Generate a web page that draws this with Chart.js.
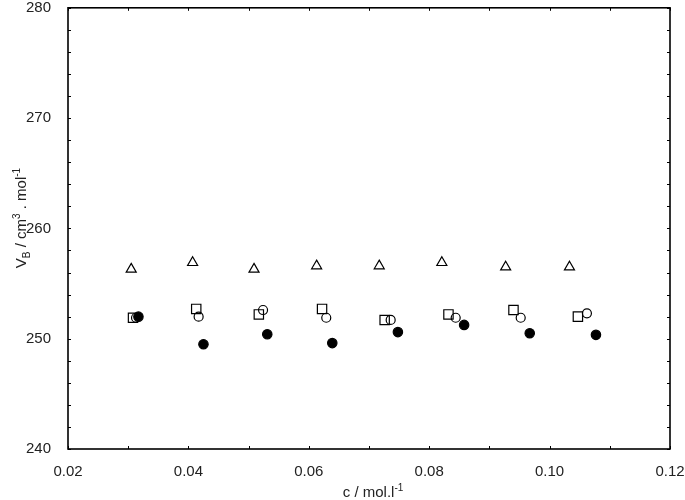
<!DOCTYPE html>
<html>
<head>
<meta charset="utf-8">
<script src="https://cdn.jsdelivr.net/npm/chart.js@4/dist/chart.umd.min.js"></script>
<style>
  html, body { margin: 0; padding: 0; background: #fff; }
  #wrap { width: 685px; height: 500px; }
</style>
</head>
<body>
<div id="wrap"><canvas id="chart" width="685" height="500"></canvas></div>
<script>
// concentrations (mol/l) and apparent molar volumes (cm3/mol)
const cTriangle = [0.0305, 0.0407, 0.0509, 0.0613, 0.0717, 0.0821, 0.0927, 0.1033];
const vTriangle = [256.3, 256.9, 256.3, 256.6, 256.6, 256.9, 256.5, 256.5];

const cSquare = [0.0308, 0.0413, 0.0517, 0.0622, 0.0726, 0.0832, 0.0940, 0.1047];
const vSquare = [251.9, 252.7, 252.2, 252.7, 251.7, 252.2, 252.6, 252.0];

const cOpen = [0.0313, 0.0417, 0.0524, 0.0629, 0.0736, 0.0844, 0.0952, 0.1062];
const vOpen = [251.9, 252.0, 252.6, 251.9, 251.7, 251.9, 251.9, 252.3];

const cFilled = [0.0317, 0.0425, 0.0531, 0.0639, 0.0748, 0.0858, 0.0967, 0.1077];
const vFilled = [252.0, 249.5, 250.4, 249.6, 250.6, 251.25, 250.5, 250.35];

const xTicks = [0.02, 0.04, 0.06, 0.08, 0.10, 0.12];
const yTicks = [240, 250, 260, 270, 280];

const FONT = '"Liberation Sans", Arial, Helvetica, sans-serif';

function pts(xs, ys) {
    return xs.map((x, i) => ({ x: x, y: ys[i] }));
}

// frame with small inward ticks on all four sides
const framePlugin = {
    id: 'frame',
    afterDraw(chart) {
        const ctx = chart.ctx;
        const a = chart.chartArea;
        const xs = chart.scales.x;
        const ys = chart.scales.y;
        const len = 3;
        ctx.save();
        ctx.strokeStyle = '#000';
        ctx.lineWidth = 1;
        ctx.beginPath();
        for (let i = 2; i <= 12; i++) {
            const px = Math.round(xs.getPixelForValue(i / 100)) + 0.5;
            ctx.moveTo(px, a.bottom); ctx.lineTo(px, a.bottom - len);
            ctx.moveTo(px, a.top); ctx.lineTo(px, a.top + len);
        }
        for (let v = 240; v <= 280; v += 2) {
            const py = Math.round(ys.getPixelForValue(v)) + 0.5;
            ctx.moveTo(a.left, py); ctx.lineTo(a.left + len, py);
            ctx.moveTo(a.right, py); ctx.lineTo(a.right - len, py);
        }
        ctx.stroke();
        ctx.lineWidth = 1.6;
        ctx.strokeRect(a.left, a.top, a.right - a.left, a.bottom - a.top);
        ctx.restore();
    }
};

// axis titles with sub/superscripts
function drawRich(ctx, parts, cx, cy) {
    const big = '15px ' + FONT;
    const small = '10px ' + FONT;
    let total = 0;
    parts.forEach(p => {
        ctx.font = p.s ? small : big;
        p.w = ctx.measureText(p.t).width;
        total += p.w;
    });
    let x = cx - total / 2;
    parts.forEach(p => {
        ctx.font = p.s ? small : big;
        const dy = p.s === 'sub' ? 4 : (p.s === 'sup' ? -6 : 0);
        ctx.fillText(p.t, x, cy + dy);
        x += p.w;
    });
}

const titlePlugin = {
    id: 'titles',
    afterDraw(chart) {
        const ctx = chart.ctx;
        const a = chart.chartArea;
        ctx.save();
        ctx.fillStyle = '#222';
        ctx.textBaseline = 'alphabetic';
        ctx.textAlign = 'left';
        drawRich(ctx, [
            { t: 'c / mol.l' }, { t: '-1', s: 'sup' }
        ], (a.left + a.right) / 2 + 4, 497);
        ctx.translate(26, 218);
        ctx.rotate(-Math.PI / 2);
        drawRich(ctx, [
            { t: 'V' }, { t: 'B', s: 'sub' }, { t: ' / cm' }, { t: '3', s: 'sup' },
            { t: ' . mol' }, { t: '-1', s: 'sup' }
        ], 0, 0);
        ctx.restore();
    }
};

const common = { showLine: false, borderColor: '#000', borderWidth: 1.2 };

new Chart(document.getElementById('chart'), {
    type: 'scatter',
    data: {
        datasets: [
            Object.assign({ label: 'filled', data: pts(cFilled, vFilled), pointStyle: 'circle',
                pointRadius: 4.7, backgroundColor: '#000' }, common),
            Object.assign({ label: 'open', data: pts(cOpen, vOpen), pointStyle: 'circle',
                pointRadius: 4.5, backgroundColor: 'rgba(0,0,0,0)' }, common),
            Object.assign({ label: 'square', data: pts(cSquare, vSquare), pointStyle: 'rect',
                pointRadius: 6.6, backgroundColor: 'rgba(0,0,0,0)' }, common),
            Object.assign({ label: 'triangle', data: pts(cTriangle, vTriangle), pointStyle: 'triangle',
                pointRadius: 5.8, backgroundColor: 'rgba(0,0,0,0)' }, common)
        ]
    },
    options: {
        responsive: false,
        animation: false,
        events: [],
        layout: { padding: { top: 7, right: 15, left: 0, bottom: 0 } },
        plugins: { legend: { display: false }, tooltip: { enabled: false } },
        scales: {
            x: {
                type: 'linear',
                min: 0.02,
                max: 0.12,
                afterFit(scale) {
                    scale.height = 51;
                    scale.paddingLeft = 0;
                    scale.paddingRight = 0;
                },
                afterBuildTicks(scale) { scale.ticks = xTicks.map(v => ({ value: v })); },
                grid: { display: false },
                border: { display: false },
                ticks: {
                    padding: 6,
                    color: '#222',
                    font: { family: FONT, size: 15 },
                    maxRotation: 0,
                    callback: v => Number(v).toFixed(2)
                }
            },
            y: {
                type: 'linear',
                min: 240,
                max: 280,
                afterFit(scale) {
                    scale.width = 68;
                    scale.paddingTop = 0;
                    scale.paddingBottom = 0;
                },
                afterBuildTicks(scale) { scale.ticks = yTicks.map(v => ({ value: v })); },
                grid: { display: false },
                border: { display: false },
                ticks: {
                    padding: 9,
                    color: '#222',
                    font: { family: FONT, size: 15 },
                    callback: v => String(v)
                }
            }
        }
    },
    plugins: [framePlugin, titlePlugin]
});
</script>
</body>
</html>
